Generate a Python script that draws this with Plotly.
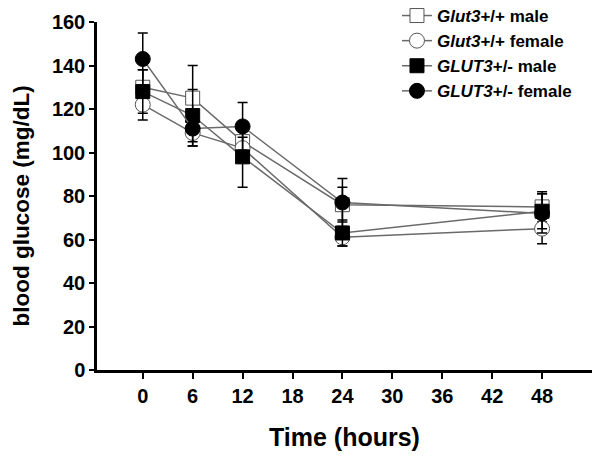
import plotly.graph_objects as go

time_h = [0, 6, 12, 24, 48]
x_ticks = [0, 6, 12, 18, 24, 30, 36, 42, 48]
y_ticks = [0, 20, 40, 60, 80, 100, 120, 140, 160]

wt_male = [130, 125, 105, 76, 75]
wt_male_err = [8, 15, 8, 8, 7]
wt_female = [122, 109, 102, 61, 65]
wt_female_err = [7, 6, 5, 4, 7]
het_male = [128, 117, 98, 63, 73]
het_male_err = [10, 12, 14, 6, 8]
het_female = [143, 111, 112, 77, 72]
het_female_err = [12, 8, 11, 11, 9]

names = ["<i>Glut3</i>+/+ male", "<i>Glut3</i>+/+ female",
         "<i>GLUT3</i>+/- male", "<i>GLUT3</i>+/- female"]
series = [wt_male, wt_female, het_male, het_female]
errs = [wt_male_err, wt_female_err, het_male_err, het_female_err]
symbols = ["square", "circle", "square", "circle"]
fills = ["white", "white", "black", "black"]
sizes = [14, 15, 14, 15]

x_title = "Time (hours)"
y_title = "blood glucose (mg/dL)"

fig = go.Figure()
for i, (name, ys, er, sym, fc, sz) in enumerate(zip(names, series, errs, symbols, fills, sizes)):
    fig.add_trace(go.Scatter(
        x=time_h, y=ys, name=name, mode="lines+markers", legendgroup=f"g{i}",
        line=dict(color="#6a6a6a", width=1.5),
        marker=dict(symbol=sym, size=sz, color=fc,
                    line=dict(color="black" if fc == "black" else "#555555", width=1)),
        error_y=dict(type="data", array=er, visible=True, color="black",
                     thickness=1.5, width=5),
    ))

fig.update_layout(
    width=592, height=449,
    margin=dict(l=89, r=8, t=14, b=87, autoexpand=False),
    paper_bgcolor="white", plot_bgcolor="white",
    font=dict(family="Liberation Sans, Arial, sans-serif", color="black"),
    showlegend=True,
    legend=dict(x=0.606, xref="paper", y=1.069, yref="paper",
                xanchor="left", yanchor="top",
                font=dict(size=17, family="Liberation Sans, Arial, sans-serif", weight="bold"),
                bgcolor="rgba(0,0,0,0)", tracegroupgap=0, itemwidth=30),
)
fig.update_xaxes(
    range=[-5.5, 54], tickvals=x_ticks, ticktext=[str(v) for v in x_ticks],
    showline=True, linecolor="black", linewidth=2.5,
    ticks="outside", ticklen=6, tickwidth=1.5, tickcolor="black",
    showgrid=False, zeroline=False, automargin=False,
    tickfont=dict(size=20, weight="bold"),
)
fig.update_yaxes(
    range=[0, 160], tickvals=y_ticks,
    showline=True, linecolor="black", linewidth=2.5,
    ticks="outside", ticklen=5, tickwidth=1.5, tickcolor="black",
    showgrid=False, zeroline=False, automargin=False,
    tickfont=dict(size=20, weight="bold"),
)
fig.add_annotation(text=x_title, xref="paper", yref="paper", x=0.5, y=-0.1925,
                   xanchor="center", yanchor="middle", showarrow=False,
                   font=dict(size=25, weight="bold"))
fig.add_annotation(text=y_title, xref="paper", yref="paper", x=-0.1535, y=0.47,
                   xanchor="center", yanchor="middle", showarrow=False, textangle=-90,
                   font=dict(size=22.5, weight="bold"))

fig.write_html("out.html")
